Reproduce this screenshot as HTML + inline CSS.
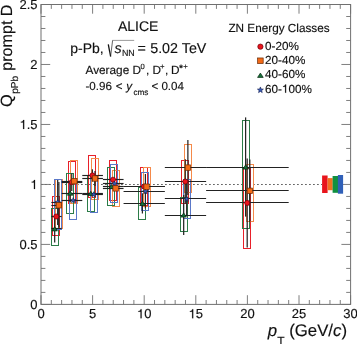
<!DOCTYPE html>
<html><head><meta charset="utf-8"><style>
html,body{margin:0;padding:0;background:#fff;width:357px;height:344px;overflow:hidden}
svg{display:block;will-change:transform}
text{font-family:"Liberation Sans",sans-serif;fill:#111;stroke:#111;stroke-width:0.15px;text-rendering:geometricPrecision}
</style></head><body>
<svg width="357" height="344" viewBox="0 0 357 344" font-family="Liberation Sans, sans-serif">
<rect width="357" height="344" fill="#fff"/>
<line x1="41.0" y1="184.5" x2="322" y2="184.5" stroke="#666" stroke-width="1" stroke-dasharray="1.8,2.2"/>
<rect x="52.50" y="196.50" width="7.00" height="39.00" fill="none" stroke="#e8202a" stroke-width="1"/>
<rect x="68.50" y="161.50" width="7.00" height="42.00" fill="none" stroke="#e8202a" stroke-width="1"/>
<rect x="88.50" y="155.50" width="7.00" height="42.00" fill="none" stroke="#e8202a" stroke-width="1"/>
<rect x="109.50" y="160.50" width="7.00" height="40.00" fill="none" stroke="#e8202a" stroke-width="1"/>
<rect x="140.50" y="167.50" width="7.00" height="38.00" fill="none" stroke="#e8202a" stroke-width="1"/>
<rect x="181.50" y="160.50" width="7.00" height="43.00" fill="none" stroke="#e8202a" stroke-width="1"/>
<rect x="243.50" y="168.50" width="7.00" height="80.00" fill="none" stroke="#e8202a" stroke-width="1"/>
<rect x="55.50" y="179.50" width="7.00" height="49.00" fill="none" stroke="#f58a4a" stroke-width="1"/>
<rect x="70.50" y="160.50" width="7.00" height="43.00" fill="none" stroke="#f58a4a" stroke-width="1"/>
<rect x="91.50" y="158.50" width="7.00" height="41.00" fill="none" stroke="#f58a4a" stroke-width="1"/>
<rect x="112.50" y="170.50" width="7.00" height="36.00" fill="none" stroke="#f58a4a" stroke-width="1"/>
<rect x="143.50" y="167.50" width="7.00" height="39.00" fill="none" stroke="#f58a4a" stroke-width="1"/>
<rect x="184.50" y="144.50" width="7.00" height="48.00" fill="none" stroke="#f58a4a" stroke-width="1"/>
<rect x="246.50" y="164.50" width="7.00" height="57.00" fill="none" stroke="#f58a4a" stroke-width="1"/>
<rect x="51.50" y="208.50" width="7.00" height="37.00" fill="none" stroke="#2c7c48" stroke-width="1"/>
<rect x="66.50" y="173.50" width="7.00" height="40.00" fill="none" stroke="#2c7c48" stroke-width="1"/>
<rect x="87.50" y="175.50" width="7.00" height="36.00" fill="none" stroke="#2c7c48" stroke-width="1"/>
<rect x="107.50" y="167.50" width="7.00" height="38.00" fill="none" stroke="#2c7c48" stroke-width="1"/>
<rect x="138.50" y="187.50" width="7.00" height="32.00" fill="none" stroke="#2c7c48" stroke-width="1"/>
<rect x="180.50" y="197.50" width="7.00" height="34.00" fill="none" stroke="#2c7c48" stroke-width="1"/>
<rect x="242.50" y="120.50" width="7.00" height="108.00" fill="none" stroke="#2c7c48" stroke-width="1"/>
<rect x="54.50" y="179.50" width="7.00" height="50.00" fill="none" stroke="#5a78c8" stroke-width="1"/>
<rect x="69.50" y="181.50" width="7.00" height="38.00" fill="none" stroke="#5a78c8" stroke-width="1"/>
<rect x="90.50" y="176.50" width="7.00" height="36.00" fill="none" stroke="#5a78c8" stroke-width="1"/>
<rect x="110.50" y="164.50" width="7.00" height="38.00" fill="none" stroke="#5a78c8" stroke-width="1"/>
<rect x="141.50" y="172.50" width="7.00" height="38.00" fill="none" stroke="#5a78c8" stroke-width="1"/>
<rect x="183.50" y="179.50" width="7.00" height="39.00" fill="none" stroke="#5a78c8" stroke-width="1"/>
<line x1="51.32" y1="216.50" x2="61.64" y2="216.50" stroke="#222" stroke-width="1.15"/>
<line x1="61.64" y1="182.50" x2="82.28" y2="182.50" stroke="#222" stroke-width="1.15"/>
<line x1="71.76" y1="173.40" x2="71.76" y2="191.00" stroke="#262626" stroke-width="1.25"/>
<line x1="82.28" y1="175.50" x2="102.92" y2="175.50" stroke="#222" stroke-width="1.15"/>
<line x1="92.40" y1="169.30" x2="92.40" y2="181.50" stroke="#262626" stroke-width="1.25"/>
<line x1="102.92" y1="179.50" x2="123.56" y2="179.50" stroke="#222" stroke-width="1.15"/>
<line x1="123.56" y1="186.50" x2="164.84" y2="186.50" stroke="#222" stroke-width="1.15"/>
<line x1="164.84" y1="181.50" x2="206.12" y2="181.50" stroke="#222" stroke-width="1.15"/>
<line x1="185.28" y1="159.30" x2="185.28" y2="203.70" stroke="#262626" stroke-width="1.25"/>
<line x1="206.12" y1="202.50" x2="288.68" y2="202.50" stroke="#222" stroke-width="1.15"/>
<line x1="247.20" y1="158.40" x2="247.20" y2="247.40" stroke="#262626" stroke-width="1.25"/>
<line x1="51.32" y1="205.50" x2="61.64" y2="205.50" stroke="#222" stroke-width="1.15"/>
<line x1="58.88" y1="182.00" x2="58.88" y2="227.00" stroke="#262626" stroke-width="1.25"/>
<line x1="61.64" y1="181.50" x2="82.28" y2="181.50" stroke="#222" stroke-width="1.15"/>
<line x1="82.28" y1="178.50" x2="102.92" y2="178.50" stroke="#222" stroke-width="1.15"/>
<line x1="95.00" y1="171.00" x2="95.00" y2="186.00" stroke="#262626" stroke-width="1.25"/>
<line x1="102.92" y1="188.50" x2="123.56" y2="188.50" stroke="#222" stroke-width="1.15"/>
<line x1="123.56" y1="186.50" x2="164.84" y2="186.50" stroke="#222" stroke-width="1.15"/>
<line x1="164.84" y1="167.50" x2="206.12" y2="167.50" stroke="#222" stroke-width="1.15"/>
<line x1="187.88" y1="140.10" x2="187.88" y2="195.00" stroke="#262626" stroke-width="1.25"/>
<line x1="206.12" y1="190.50" x2="288.68" y2="190.50" stroke="#222" stroke-width="1.15"/>
<line x1="249.80" y1="159.40" x2="249.80" y2="222.00" stroke="#262626" stroke-width="1.25"/>
<line x1="51.32" y1="228.50" x2="61.64" y2="228.50" stroke="#222" stroke-width="1.15"/>
<line x1="54.68" y1="216.00" x2="54.68" y2="242.40" stroke="#262626" stroke-width="1.25"/>
<line x1="61.64" y1="193.50" x2="82.28" y2="193.50" stroke="#222" stroke-width="1.15"/>
<line x1="70.16" y1="184.00" x2="70.16" y2="202.00" stroke="#262626" stroke-width="1.25"/>
<line x1="82.28" y1="193.50" x2="102.92" y2="193.50" stroke="#222" stroke-width="1.15"/>
<line x1="102.92" y1="186.50" x2="123.56" y2="186.50" stroke="#222" stroke-width="1.15"/>
<line x1="123.56" y1="203.50" x2="164.84" y2="203.50" stroke="#222" stroke-width="1.15"/>
<line x1="142.40" y1="193.30" x2="142.40" y2="213.50" stroke="#262626" stroke-width="1.25"/>
<line x1="164.84" y1="215.50" x2="206.12" y2="215.50" stroke="#222" stroke-width="1.15"/>
<line x1="183.68" y1="195.00" x2="183.68" y2="235.00" stroke="#262626" stroke-width="1.25"/>
<line x1="206.12" y1="167.50" x2="288.68" y2="167.50" stroke="#222" stroke-width="1.15"/>
<line x1="245.60" y1="117.40" x2="245.60" y2="216.60" stroke="#262626" stroke-width="1.25"/>
<line x1="51.32" y1="202.50" x2="61.64" y2="202.50" stroke="#222" stroke-width="1.15"/>
<line x1="57.68" y1="180.00" x2="57.68" y2="225.00" stroke="#262626" stroke-width="1.25"/>
<line x1="61.64" y1="200.50" x2="82.28" y2="200.50" stroke="#222" stroke-width="1.15"/>
<line x1="82.28" y1="194.50" x2="102.92" y2="194.50" stroke="#222" stroke-width="1.15"/>
<line x1="102.92" y1="183.50" x2="123.56" y2="183.50" stroke="#222" stroke-width="1.15"/>
<line x1="123.56" y1="191.50" x2="164.84" y2="191.50" stroke="#222" stroke-width="1.15"/>
<line x1="145.40" y1="174.00" x2="145.40" y2="208.40" stroke="#262626" stroke-width="1.25"/>
<line x1="164.84" y1="198.50" x2="206.12" y2="198.50" stroke="#222" stroke-width="1.15"/>
<line x1="186.68" y1="183.00" x2="186.68" y2="215.00" stroke="#262626" stroke-width="1.25"/>
<circle cx="56.28" cy="216.50" r="2.55" fill="#e8141c" stroke="#700008" stroke-width="0.7"/>
<circle cx="71.76" cy="182.20" r="2.55" fill="#e8141c" stroke="#700008" stroke-width="0.7"/>
<circle cx="92.40" cy="175.40" r="2.55" fill="#e8141c" stroke="#700008" stroke-width="0.7"/>
<circle cx="113.04" cy="179.70" r="2.55" fill="#e8141c" stroke="#700008" stroke-width="0.7"/>
<circle cx="144.00" cy="186.50" r="2.55" fill="#e8141c" stroke="#700008" stroke-width="0.7"/>
<circle cx="185.28" cy="181.50" r="2.55" fill="#e8141c" stroke="#700008" stroke-width="0.7"/>
<circle cx="247.20" cy="202.90" r="2.55" fill="#e8141c" stroke="#700008" stroke-width="0.7"/>
<path d="M54.68 226.70L57.43 230.90L51.93 230.90Z" fill="#16703a" stroke="#06280f" stroke-width="0.7"/>
<path d="M70.16 191.00L72.91 195.20L67.41 195.20Z" fill="#16703a" stroke="#06280f" stroke-width="0.7"/>
<path d="M90.80 191.30L93.55 195.50L88.05 195.50Z" fill="#16703a" stroke="#06280f" stroke-width="0.7"/>
<path d="M111.44 184.40L114.19 188.60L108.69 188.60Z" fill="#16703a" stroke="#06280f" stroke-width="0.7"/>
<path d="M142.40 201.30L145.15 205.50L139.65 205.50Z" fill="#16703a" stroke="#06280f" stroke-width="0.7"/>
<path d="M183.68 212.90L186.43 217.10L180.93 217.10Z" fill="#16703a" stroke="#06280f" stroke-width="0.7"/>
<path d="M245.60 164.90L248.35 169.10L242.85 169.10Z" fill="#16703a" stroke="#06280f" stroke-width="0.7"/>
<polygon points="57.68,199.50 58.39,201.33 60.34,201.43 58.82,202.67 59.33,204.57 57.68,203.50 56.03,204.57 56.54,202.67 55.02,201.43 56.97,201.33" fill="#3a5cb8" stroke="#141e50" stroke-width="0.6"/>
<polygon points="73.16,197.60 73.87,199.43 75.82,199.53 74.30,200.77 74.81,202.67 73.16,201.60 71.51,202.67 72.02,200.77 70.50,199.53 72.45,199.43" fill="#3a5cb8" stroke="#141e50" stroke-width="0.6"/>
<polygon points="93.80,191.70 94.51,193.53 96.46,193.63 94.94,194.87 95.45,196.77 93.80,195.70 92.15,196.77 92.66,194.87 91.14,193.63 93.09,193.53" fill="#3a5cb8" stroke="#141e50" stroke-width="0.6"/>
<polygon points="114.44,181.00 115.15,182.83 117.10,182.93 115.58,184.17 116.09,186.07 114.44,185.00 112.79,186.07 113.30,184.17 111.78,182.93 113.73,182.83" fill="#3a5cb8" stroke="#141e50" stroke-width="0.6"/>
<polygon points="145.40,188.70 146.11,190.53 148.06,190.63 146.54,191.87 147.05,193.77 145.40,192.70 143.75,193.77 144.26,191.87 142.74,190.63 144.69,190.53" fill="#3a5cb8" stroke="#141e50" stroke-width="0.6"/>
<polygon points="186.68,196.30 187.39,198.13 189.34,198.23 187.82,199.47 188.33,201.37 186.68,200.30 185.03,201.37 185.54,199.47 184.02,198.23 185.97,198.13" fill="#3a5cb8" stroke="#141e50" stroke-width="0.6"/>
<rect x="56.18" y="202.60" width="5.40" height="5.40" fill="#f26a18" stroke="#6a2a04" stroke-width="0.7"/>
<rect x="71.66" y="178.50" width="5.40" height="5.40" fill="#f26a18" stroke="#6a2a04" stroke-width="0.7"/>
<rect x="92.30" y="175.80" width="5.40" height="5.40" fill="#f26a18" stroke="#6a2a04" stroke-width="0.7"/>
<rect x="112.94" y="185.70" width="5.40" height="5.40" fill="#f26a18" stroke="#6a2a04" stroke-width="0.7"/>
<rect x="143.90" y="184.00" width="5.40" height="5.40" fill="#f26a18" stroke="#6a2a04" stroke-width="0.7"/>
<rect x="185.18" y="164.90" width="5.40" height="5.40" fill="#f26a18" stroke="#6a2a04" stroke-width="0.7"/>
<rect x="247.10" y="188.10" width="5.40" height="5.40" fill="#f26a18" stroke="#6a2a04" stroke-width="0.7"/>
<rect x="41.0" y="4.5" width="309.60" height="299.90" fill="none" stroke="#707070" stroke-width="1"/>
<line x1="41.00" y1="304.4" x2="41.00" y2="295.20" stroke="#707070" stroke-width="0.9"/>
<line x1="41.00" y1="4.5" x2="41.00" y2="13.70" stroke="#707070" stroke-width="0.9"/>
<line x1="51.32" y1="304.4" x2="51.32" y2="300.00" stroke="#707070" stroke-width="0.9"/>
<line x1="51.32" y1="4.5" x2="51.32" y2="8.90" stroke="#707070" stroke-width="0.9"/>
<line x1="61.64" y1="304.4" x2="61.64" y2="300.00" stroke="#707070" stroke-width="0.9"/>
<line x1="61.64" y1="4.5" x2="61.64" y2="8.90" stroke="#707070" stroke-width="0.9"/>
<line x1="71.96" y1="304.4" x2="71.96" y2="300.00" stroke="#707070" stroke-width="0.9"/>
<line x1="71.96" y1="4.5" x2="71.96" y2="8.90" stroke="#707070" stroke-width="0.9"/>
<line x1="82.28" y1="304.4" x2="82.28" y2="300.00" stroke="#707070" stroke-width="0.9"/>
<line x1="82.28" y1="4.5" x2="82.28" y2="8.90" stroke="#707070" stroke-width="0.9"/>
<line x1="92.60" y1="304.4" x2="92.60" y2="295.20" stroke="#707070" stroke-width="0.9"/>
<line x1="92.60" y1="4.5" x2="92.60" y2="13.70" stroke="#707070" stroke-width="0.9"/>
<line x1="102.92" y1="304.4" x2="102.92" y2="300.00" stroke="#707070" stroke-width="0.9"/>
<line x1="102.92" y1="4.5" x2="102.92" y2="8.90" stroke="#707070" stroke-width="0.9"/>
<line x1="113.24" y1="304.4" x2="113.24" y2="300.00" stroke="#707070" stroke-width="0.9"/>
<line x1="113.24" y1="4.5" x2="113.24" y2="8.90" stroke="#707070" stroke-width="0.9"/>
<line x1="123.56" y1="304.4" x2="123.56" y2="300.00" stroke="#707070" stroke-width="0.9"/>
<line x1="123.56" y1="4.5" x2="123.56" y2="8.90" stroke="#707070" stroke-width="0.9"/>
<line x1="133.88" y1="304.4" x2="133.88" y2="300.00" stroke="#707070" stroke-width="0.9"/>
<line x1="133.88" y1="4.5" x2="133.88" y2="8.90" stroke="#707070" stroke-width="0.9"/>
<line x1="144.20" y1="304.4" x2="144.20" y2="295.20" stroke="#707070" stroke-width="0.9"/>
<line x1="144.20" y1="4.5" x2="144.20" y2="13.70" stroke="#707070" stroke-width="0.9"/>
<line x1="154.52" y1="304.4" x2="154.52" y2="300.00" stroke="#707070" stroke-width="0.9"/>
<line x1="154.52" y1="4.5" x2="154.52" y2="8.90" stroke="#707070" stroke-width="0.9"/>
<line x1="164.84" y1="304.4" x2="164.84" y2="300.00" stroke="#707070" stroke-width="0.9"/>
<line x1="164.84" y1="4.5" x2="164.84" y2="8.90" stroke="#707070" stroke-width="0.9"/>
<line x1="175.16" y1="304.4" x2="175.16" y2="300.00" stroke="#707070" stroke-width="0.9"/>
<line x1="175.16" y1="4.5" x2="175.16" y2="8.90" stroke="#707070" stroke-width="0.9"/>
<line x1="185.48" y1="304.4" x2="185.48" y2="300.00" stroke="#707070" stroke-width="0.9"/>
<line x1="185.48" y1="4.5" x2="185.48" y2="8.90" stroke="#707070" stroke-width="0.9"/>
<line x1="195.80" y1="304.4" x2="195.80" y2="295.20" stroke="#707070" stroke-width="0.9"/>
<line x1="195.80" y1="4.5" x2="195.80" y2="13.70" stroke="#707070" stroke-width="0.9"/>
<line x1="206.12" y1="304.4" x2="206.12" y2="300.00" stroke="#707070" stroke-width="0.9"/>
<line x1="206.12" y1="4.5" x2="206.12" y2="8.90" stroke="#707070" stroke-width="0.9"/>
<line x1="216.44" y1="304.4" x2="216.44" y2="300.00" stroke="#707070" stroke-width="0.9"/>
<line x1="216.44" y1="4.5" x2="216.44" y2="8.90" stroke="#707070" stroke-width="0.9"/>
<line x1="226.76" y1="304.4" x2="226.76" y2="300.00" stroke="#707070" stroke-width="0.9"/>
<line x1="226.76" y1="4.5" x2="226.76" y2="8.90" stroke="#707070" stroke-width="0.9"/>
<line x1="237.08" y1="304.4" x2="237.08" y2="300.00" stroke="#707070" stroke-width="0.9"/>
<line x1="237.08" y1="4.5" x2="237.08" y2="8.90" stroke="#707070" stroke-width="0.9"/>
<line x1="247.40" y1="304.4" x2="247.40" y2="295.20" stroke="#707070" stroke-width="0.9"/>
<line x1="247.40" y1="4.5" x2="247.40" y2="13.70" stroke="#707070" stroke-width="0.9"/>
<line x1="257.72" y1="304.4" x2="257.72" y2="300.00" stroke="#707070" stroke-width="0.9"/>
<line x1="257.72" y1="4.5" x2="257.72" y2="8.90" stroke="#707070" stroke-width="0.9"/>
<line x1="268.04" y1="304.4" x2="268.04" y2="300.00" stroke="#707070" stroke-width="0.9"/>
<line x1="268.04" y1="4.5" x2="268.04" y2="8.90" stroke="#707070" stroke-width="0.9"/>
<line x1="278.36" y1="304.4" x2="278.36" y2="300.00" stroke="#707070" stroke-width="0.9"/>
<line x1="278.36" y1="4.5" x2="278.36" y2="8.90" stroke="#707070" stroke-width="0.9"/>
<line x1="288.68" y1="304.4" x2="288.68" y2="300.00" stroke="#707070" stroke-width="0.9"/>
<line x1="288.68" y1="4.5" x2="288.68" y2="8.90" stroke="#707070" stroke-width="0.9"/>
<line x1="299.00" y1="304.4" x2="299.00" y2="295.20" stroke="#707070" stroke-width="0.9"/>
<line x1="299.00" y1="4.5" x2="299.00" y2="13.70" stroke="#707070" stroke-width="0.9"/>
<line x1="309.32" y1="304.4" x2="309.32" y2="300.00" stroke="#707070" stroke-width="0.9"/>
<line x1="309.32" y1="4.5" x2="309.32" y2="8.90" stroke="#707070" stroke-width="0.9"/>
<line x1="319.64" y1="304.4" x2="319.64" y2="300.00" stroke="#707070" stroke-width="0.9"/>
<line x1="319.64" y1="4.5" x2="319.64" y2="8.90" stroke="#707070" stroke-width="0.9"/>
<line x1="329.96" y1="304.4" x2="329.96" y2="300.00" stroke="#707070" stroke-width="0.9"/>
<line x1="329.96" y1="4.5" x2="329.96" y2="8.90" stroke="#707070" stroke-width="0.9"/>
<line x1="340.28" y1="304.4" x2="340.28" y2="300.00" stroke="#707070" stroke-width="0.9"/>
<line x1="340.28" y1="4.5" x2="340.28" y2="8.90" stroke="#707070" stroke-width="0.9"/>
<line x1="350.60" y1="304.4" x2="350.60" y2="295.20" stroke="#707070" stroke-width="0.9"/>
<line x1="350.60" y1="4.5" x2="350.60" y2="13.70" stroke="#707070" stroke-width="0.9"/>
<line x1="41.0" y1="304.40" x2="50.20" y2="304.40" stroke="#707070" stroke-width="0.9"/>
<line x1="350.6" y1="304.40" x2="341.40" y2="304.40" stroke="#707070" stroke-width="0.9"/>
<line x1="41.0" y1="292.40" x2="45.40" y2="292.40" stroke="#707070" stroke-width="0.9"/>
<line x1="350.6" y1="292.40" x2="346.20" y2="292.40" stroke="#707070" stroke-width="0.9"/>
<line x1="41.0" y1="280.41" x2="45.40" y2="280.41" stroke="#707070" stroke-width="0.9"/>
<line x1="350.6" y1="280.41" x2="346.20" y2="280.41" stroke="#707070" stroke-width="0.9"/>
<line x1="41.0" y1="268.41" x2="45.40" y2="268.41" stroke="#707070" stroke-width="0.9"/>
<line x1="350.6" y1="268.41" x2="346.20" y2="268.41" stroke="#707070" stroke-width="0.9"/>
<line x1="41.0" y1="256.42" x2="45.40" y2="256.42" stroke="#707070" stroke-width="0.9"/>
<line x1="350.6" y1="256.42" x2="346.20" y2="256.42" stroke="#707070" stroke-width="0.9"/>
<line x1="41.0" y1="244.42" x2="50.20" y2="244.42" stroke="#707070" stroke-width="0.9"/>
<line x1="350.6" y1="244.42" x2="341.40" y2="244.42" stroke="#707070" stroke-width="0.9"/>
<line x1="41.0" y1="232.42" x2="45.40" y2="232.42" stroke="#707070" stroke-width="0.9"/>
<line x1="350.6" y1="232.42" x2="346.20" y2="232.42" stroke="#707070" stroke-width="0.9"/>
<line x1="41.0" y1="220.43" x2="45.40" y2="220.43" stroke="#707070" stroke-width="0.9"/>
<line x1="350.6" y1="220.43" x2="346.20" y2="220.43" stroke="#707070" stroke-width="0.9"/>
<line x1="41.0" y1="208.43" x2="45.40" y2="208.43" stroke="#707070" stroke-width="0.9"/>
<line x1="350.6" y1="208.43" x2="346.20" y2="208.43" stroke="#707070" stroke-width="0.9"/>
<line x1="41.0" y1="196.44" x2="45.40" y2="196.44" stroke="#707070" stroke-width="0.9"/>
<line x1="350.6" y1="196.44" x2="346.20" y2="196.44" stroke="#707070" stroke-width="0.9"/>
<line x1="41.0" y1="184.44" x2="50.20" y2="184.44" stroke="#707070" stroke-width="0.9"/>
<line x1="350.6" y1="184.44" x2="341.40" y2="184.44" stroke="#707070" stroke-width="0.9"/>
<line x1="41.0" y1="172.44" x2="45.40" y2="172.44" stroke="#707070" stroke-width="0.9"/>
<line x1="350.6" y1="172.44" x2="346.20" y2="172.44" stroke="#707070" stroke-width="0.9"/>
<line x1="41.0" y1="160.45" x2="45.40" y2="160.45" stroke="#707070" stroke-width="0.9"/>
<line x1="350.6" y1="160.45" x2="346.20" y2="160.45" stroke="#707070" stroke-width="0.9"/>
<line x1="41.0" y1="148.45" x2="45.40" y2="148.45" stroke="#707070" stroke-width="0.9"/>
<line x1="350.6" y1="148.45" x2="346.20" y2="148.45" stroke="#707070" stroke-width="0.9"/>
<line x1="41.0" y1="136.46" x2="45.40" y2="136.46" stroke="#707070" stroke-width="0.9"/>
<line x1="350.6" y1="136.46" x2="346.20" y2="136.46" stroke="#707070" stroke-width="0.9"/>
<line x1="41.0" y1="124.46" x2="50.20" y2="124.46" stroke="#707070" stroke-width="0.9"/>
<line x1="350.6" y1="124.46" x2="341.40" y2="124.46" stroke="#707070" stroke-width="0.9"/>
<line x1="41.0" y1="112.46" x2="45.40" y2="112.46" stroke="#707070" stroke-width="0.9"/>
<line x1="350.6" y1="112.46" x2="346.20" y2="112.46" stroke="#707070" stroke-width="0.9"/>
<line x1="41.0" y1="100.47" x2="45.40" y2="100.47" stroke="#707070" stroke-width="0.9"/>
<line x1="350.6" y1="100.47" x2="346.20" y2="100.47" stroke="#707070" stroke-width="0.9"/>
<line x1="41.0" y1="88.47" x2="45.40" y2="88.47" stroke="#707070" stroke-width="0.9"/>
<line x1="350.6" y1="88.47" x2="346.20" y2="88.47" stroke="#707070" stroke-width="0.9"/>
<line x1="41.0" y1="76.48" x2="45.40" y2="76.48" stroke="#707070" stroke-width="0.9"/>
<line x1="350.6" y1="76.48" x2="346.20" y2="76.48" stroke="#707070" stroke-width="0.9"/>
<line x1="41.0" y1="64.48" x2="50.20" y2="64.48" stroke="#707070" stroke-width="0.9"/>
<line x1="350.6" y1="64.48" x2="341.40" y2="64.48" stroke="#707070" stroke-width="0.9"/>
<line x1="41.0" y1="52.48" x2="45.40" y2="52.48" stroke="#707070" stroke-width="0.9"/>
<line x1="350.6" y1="52.48" x2="346.20" y2="52.48" stroke="#707070" stroke-width="0.9"/>
<line x1="41.0" y1="40.49" x2="45.40" y2="40.49" stroke="#707070" stroke-width="0.9"/>
<line x1="350.6" y1="40.49" x2="346.20" y2="40.49" stroke="#707070" stroke-width="0.9"/>
<line x1="41.0" y1="28.49" x2="45.40" y2="28.49" stroke="#707070" stroke-width="0.9"/>
<line x1="350.6" y1="28.49" x2="346.20" y2="28.49" stroke="#707070" stroke-width="0.9"/>
<line x1="41.0" y1="16.50" x2="45.40" y2="16.50" stroke="#707070" stroke-width="0.9"/>
<line x1="350.6" y1="16.50" x2="346.20" y2="16.50" stroke="#707070" stroke-width="0.9"/>
<line x1="41.0" y1="4.50" x2="50.20" y2="4.50" stroke="#707070" stroke-width="0.9"/>
<line x1="350.6" y1="4.50" x2="341.40" y2="4.50" stroke="#707070" stroke-width="0.9"/>
<rect x="322.1" y="175.5" width="5.5" height="17.5" fill="#e8141c"/>
<rect x="327.6" y="178.1" width="5.1" height="12.1" fill="#f07020"/>
<rect x="332.6" y="176.0" width="5.4" height="16.8" fill="#109040"/>
<rect x="337.9" y="175.0" width="5.2" height="18.7" fill="#3060b8"/>
<text x="37.39" y="318.30" font-size="13">0</text>
<text x="88.99" y="318.30" font-size="13">5</text>
<path d="M359 0L273 0L273 506L101 506L101 566C170 570 258 590 283 703L359 703Z" transform="translate(136.97,318.30) scale(0.01300,-0.01300)" fill="#111" stroke="#111" stroke-width="11.5"/><text x="144.20" y="318.30" font-size="13">0</text>
<path d="M359 0L273 0L273 506L101 506L101 566C170 570 258 590 283 703L359 703Z" transform="translate(188.57,318.30) scale(0.01300,-0.01300)" fill="#111" stroke="#111" stroke-width="11.5"/><text x="195.80" y="318.30" font-size="13">5</text>
<text x="240.17" y="318.30" font-size="13">20</text>
<text x="291.77" y="318.30" font-size="13">25</text>
<text x="343.37" y="318.30" font-size="13">30</text>
<text x="30.37" y="309.00" font-size="13">0</text>
<text x="19.53" y="249.02" font-size="13">0.5</text>
<path d="M359 0L273 0L273 506L101 506L101 566C170 570 258 590 283 703L359 703Z" transform="translate(30.37,189.04) scale(0.01300,-0.01300)" fill="#111" stroke="#111" stroke-width="11.5"/>
<path d="M359 0L273 0L273 506L101 506L101 566C170 570 258 590 283 703L359 703Z" transform="translate(19.53,129.06) scale(0.01300,-0.01300)" fill="#111" stroke="#111" stroke-width="11.5"/><text x="26.76" y="129.06" font-size="13">.5</text>
<text x="30.37" y="69.08" font-size="13">2</text>
<text x="19.53" y="9.10" font-size="13">2.5</text>
<text x="267.8" y="336" font-size="16.8" font-style="italic">p</text>
<text x="277.2" y="345" font-size="12">T</text>
<text x="289.2" y="336" font-size="16.8">(GeV/<tspan font-style="italic">c</tspan>)</text>
<g transform="translate(12.1,107) rotate(-90)"><text x="0" y="0" font-size="16.3">Q</text><text x="13.3" y="6.3" font-size="10">pPb</text><text x="36.3" y="0" font-size="16.1">prompt D</text></g>
<text x="138.2" y="31" font-size="14" text-anchor="middle">ALICE</text>
<text x="70.2" y="52.5" font-size="14">p-Pb,</text>
<path d="M108.3 44.3 L110.6 56.5" stroke="#111" stroke-width="1.3"/>
<path d="M110.6 56.5 L112.6 40.4" stroke="#222" stroke-width="0.7"/>
<path d="M112.4 40.4 L134.2 40.4" stroke="#555" stroke-width="0.6"/>
<text x="114.6" y="52.5" font-size="14.3" font-style="italic">s</text>
<text x="121.9" y="56.4" font-size="8.9">NN</text>
<text x="137.6" y="52.5" font-size="14.3">=</text>
<text x="150.2" y="52.5" font-size="14.3">5.02 TeV</text>
<text x="85.5" y="73.9" font-size="11.8">Average D</text>
<text x="140.5" y="68.7" font-size="7.6">0</text>
<text x="146" y="73.9" font-size="11.8">,</text>
<text x="152.6" y="73.9" font-size="11.8">D</text>
<text x="159.9" y="69.3" font-size="7.8">+</text>
<text x="165" y="73.9" font-size="11.8">,</text>
<text x="171" y="73.9" font-size="11.8">D</text>
<text x="179.2" y="70.9" font-size="9" font-weight="bold">*</text>
<text x="183.3" y="69.3" font-size="7.8">+</text>
<text x="85.5" y="89.6" font-size="11.6">-0.96</text>
<text x="115.8" y="89.6" font-size="11.6">&lt;</text>
<text x="126.3" y="89.6" font-size="11.6" font-style="italic">y</text>
<text x="133.4" y="94.5" font-size="8.2">cms</text>
<text x="151.4" y="89.6" font-size="11.6">&lt; 0.04</text>
<text x="228.4" y="32.4" font-size="11.75">ZN Energy Classes</text>
<circle cx="260.40" cy="46.65" r="2.63" fill="#e8141c" stroke="#700008" stroke-width="0.7"/>
<text x="265.00" y="49.60" font-size="11.7">0-20%</text>
<rect x="257.62" y="57.97" width="5.56" height="5.56" fill="#f26a18" stroke="#6a2a04" stroke-width="0.7"/>
<text x="265.00" y="63.70" font-size="11.7">20-40%</text>
<path d="M260.40 73.09L263.23 77.41L257.57 77.41Z" fill="#16703a" stroke="#06280f" stroke-width="0.7"/>
<text x="265.00" y="78.20" font-size="11.7">40-60%</text>
<polygon points="260.40,86.95 261.19,89.00 263.38,89.12 261.68,90.50 262.24,92.62 260.40,91.43 258.56,92.62 259.12,90.50 257.42,89.12 259.61,89.00" fill="#3a5cb8" stroke="#141e50" stroke-width="0.6"/>
<text x="265.00" y="92.70" font-size="11.7">60-</text><path d="M359 0L273 0L273 506L101 506L101 566C170 570 258 590 283 703L359 703Z" transform="translate(281.91,92.70) scale(0.01170,-0.01170)" fill="#111" stroke="#111" stroke-width="12.8"/><text x="288.41" y="92.70" font-size="11.7">00%</text>
</svg>
</body></html>
